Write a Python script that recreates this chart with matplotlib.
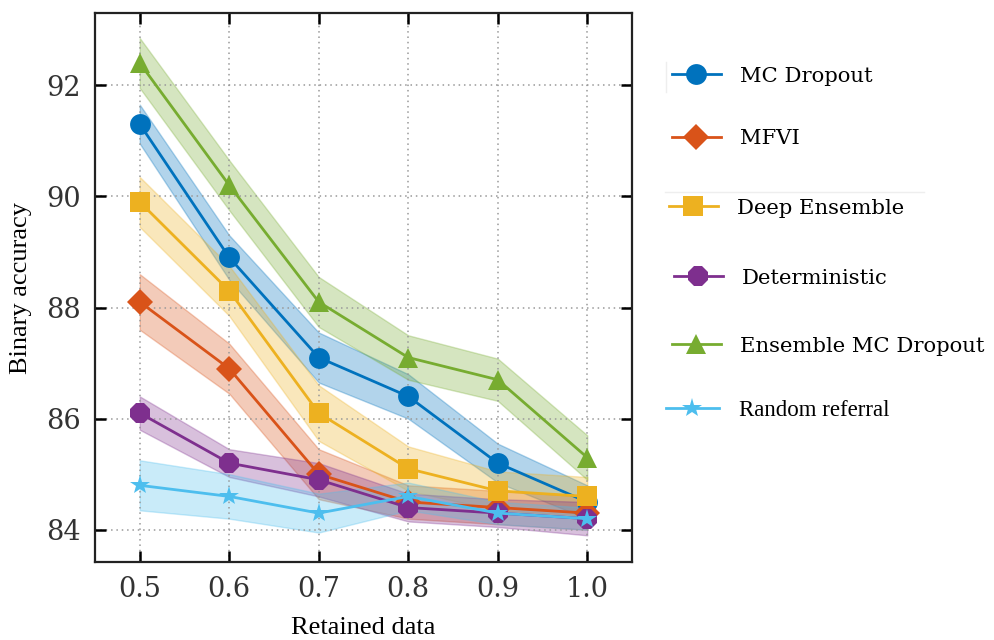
import matplotlib
matplotlib.use("Agg")
import matplotlib.pyplot as plt
from matplotlib.lines import Line2D
import numpy as np

retained = [0.5, 0.6, 0.7, 0.8, 0.9, 1.0]
x_ticklabels = ["0.5", "0.6", "0.7", "0.8", "0.9", "1.0"]
y_ticks = [84, 86, 88, 90, 92]

mc_dropout = [91.3, 88.9, 87.1, 86.4, 85.2, 84.5]
mc_dropout_err = [0.35, 0.40, 0.45, 0.40, 0.35, 0.30]
mfvi = [88.1, 86.9, 85.0, 84.5, 84.4, 84.3]
mfvi_err = [0.50, 0.45, 0.45, 0.30, 0.30, 0.30]
deep_ensemble = [89.9, 88.3, 86.1, 85.1, 84.7, 84.6]
deep_ensemble_err = [0.45, 0.45, 0.50, 0.40, 0.35, 0.35]
deterministic = [86.1, 85.2, 84.9, 84.4, 84.3, 84.2]
deterministic_err = [0.30, 0.25, 0.30, 0.25, 0.25, 0.30]
ens_mc_dropout = [92.4, 90.2, 88.1, 87.1, 86.7, 85.3]
ens_mc_dropout_err = [0.45, 0.45, 0.45, 0.40, 0.38, 0.40]
random_referral = [84.8, 84.6, 84.3, 84.6, 84.3, 84.2]
random_referral_err = [0.45, 0.40, 0.35, 0.25, 0.20, 0.20]

series = [
    ("MC Dropout", mc_dropout, mc_dropout_err, "#0072BD", "o", 15),
    ("MFVI", mfvi, mfvi_err, "#D95319", "D", 13),
    ("Deep Ensemble", deep_ensemble, deep_ensemble_err, "#EDB120", "s", 14),
    ("Deterministic", deterministic, deterministic_err, "#7E2F8E", "8", 15),
    ("Ensemble MC Dropout", ens_mc_dropout, ens_mc_dropout_err, "#77AC30", "^", 15),
    ("Random referral", random_referral, random_referral_err, "#4DBEEE", "*", 15),
]

W, H = 994, 640
fig = plt.figure(figsize=(W / 100, H / 100), dpi=100)
ax = fig.add_axes([95 / W, 1 - 562 / H, (632 - 95) / W, (562 - 13) / H])

handles = []
for name, vals, err, color, marker, ms in series:
    v = np.array(vals)
    e = np.array(err)
    ax.fill_between(retained, v - e, v + e, color=color, alpha=0.3, linewidth=1.0, edgecolor=color)
    h, = ax.plot(retained, v, color=color, marker=marker, markersize=ms, linewidth=2.0,
                 markeredgewidth=0, label=name, zorder=3)
    handles.append(h)

ax.set_xlim(0.45, 1.05)
ax.set_ylim(83.42, 93.3)
ax.set_xticks(retained)
ax.set_xticklabels(x_ticklabels)
ax.set_yticks(y_ticks)
ax.grid(True, linestyle=(0, (1, 2.5)), color="#999999", linewidth=1.1)
ax.tick_params(direction="in", length=8, width=1.8, top=True, right=True,
               labelsize=19.5, pad=10)
for lab in ax.get_xticklabels() + ax.get_yticklabels():
    lab.set_fontfamily("DejaVu Serif")
    lab.set_color("#333333")
for sp in ax.spines.values():
    sp.set_linewidth(1.6)
    sp.set_color("#222222")

ax.set_xlabel("Retained data", fontsize=19, family="Liberation Serif", labelpad=10)
ax.set_ylabel("Binary accuracy", fontsize=19, family="Liberation Serif", labelpad=10)

# separate legend entries, as pasted in the reference
legend_pos = [(672, 76), (672, 139), (669, 208), (674, 278), (672, 346), (666, 410)]
for h, (px, py) in zip(handles, legend_pos):
    rr = h.get_label() == "Random referral"
    fam = "Liberation Serif" if rr else "DejaVu Serif"
    fs = 16.5 if rr else 15.2
    fig.legend(handles=[h], loc="center left", bbox_to_anchor=(px / W, 1 - py / H),
               frameon=False, handlelength=2.3, handletextpad=0.9, markerscale=1.0,
               prop={"family": fam, "size": fs}, borderpad=0, borderaxespad=0)

# faint artifact lines from the reference's pasted legend
fig.add_artist(Line2D([666 / W, 666 / W], [1 - 62 / H, 1 - 92 / H], color="#eeeeee", linewidth=1))
fig.add_artist(Line2D([665 / W, 924 / W], [1 - 192 / H, 1 - 192 / H], color="#eeeeee", linewidth=1))

fig.savefig("out.png", dpi=100)
